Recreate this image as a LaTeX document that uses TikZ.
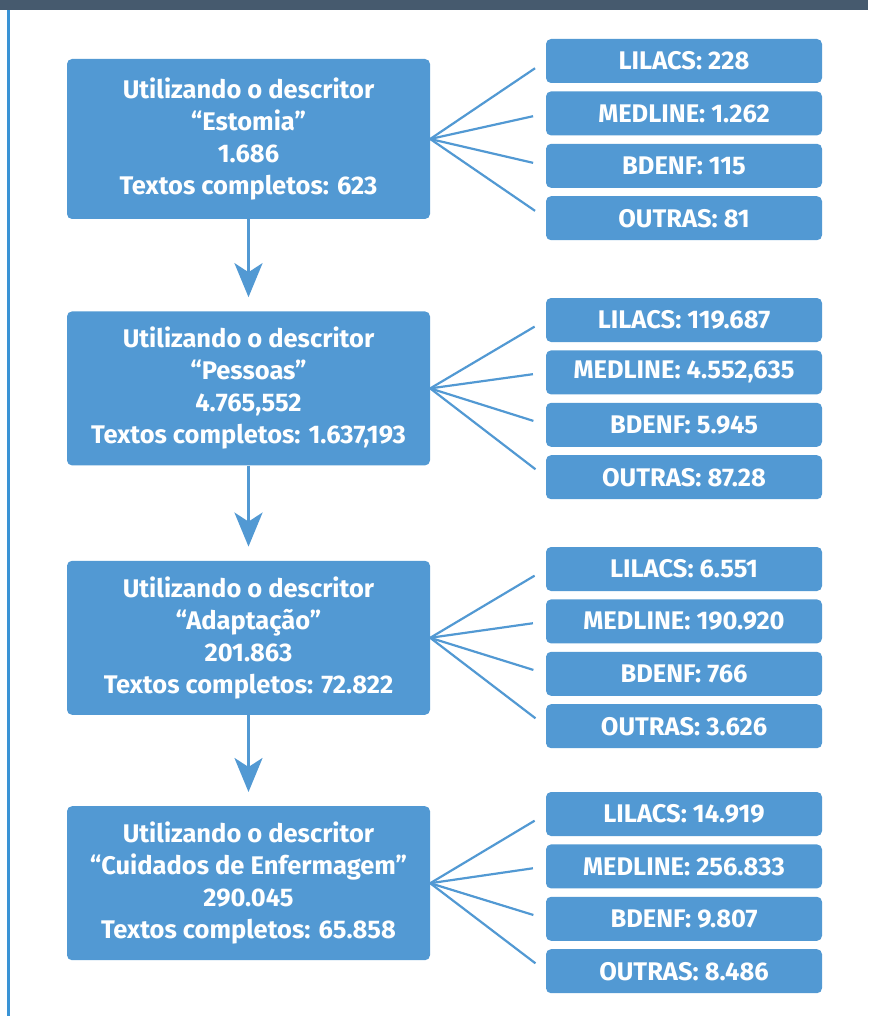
\documentclass[tikz,border=0pt]{standalone}
\usepackage{fontspec}
\setmainfont{Fira Sans}
\usetikzlibrary{arrows.meta, positioning}
\usepackage{xcolor}
\definecolor{boxblue}{RGB}{82,153,211}
\definecolor{barslate}{RGB}{70,90,110}
\definecolor{edgeblue}{RGB}{58,147,213}

\begin{document}
\begin{tikzpicture}[
    x=1pt, y=-1pt,
    node distance=8pt,
    mainbox/.style={rectangle, fill=boxblue, rounded corners=5pt, minimum width=363pt, minimum height=154pt, inner sep=0pt, text=white, align=center, font=\bfseries\fontsize{25.5}{32}\selectfont},
    dbbox/.style={rectangle, fill=boxblue, rounded corners=5pt, minimum width=276pt, minimum height=44pt, inner sep=0pt, text=white, font=\bfseries\fontsize{25.5}{28}\selectfont},
    spoke/.style={boxblue, line width=2.2pt, shorten >=13pt},
    downarrow/.style={-{Stealth[length=34pt, width=28pt, inset=9pt]}, boxblue, line width=3pt, shorten >=14pt}
]
\useasboundingbox (0,0) rectangle (868,1016);
\fill[barslate] (0,0) rectangle (868,10);
\fill[edgeblue] (7,10) rectangle (10,1016);

% search steps
\node[mainbox, minimum height=160pt] (estomia) at (248.5,139) {Utilizando o descritor\\“Estomia”\\1.686\\Textos completos: 623};
\node[mainbox, below=92pt of estomia] (pessoas) {Utilizando o descritor\\“Pessoas”\\4.765,552\\Textos completos: 1.637,193};
\node[mainbox, below=95pt of pessoas] (adapt) {Utilizando o descritor\\“Adaptação”\\201.863\\Textos completos: 72.822};
\node[mainbox, below=91pt of adapt] (cuidados) {Utilizando o descritor\\“Cuidados de Enfermagem”\\290.045\\Textos completos: 65.858};

% databases
\node[dbbox] (lil1) at (684,61) {LILACS: 228};
\node[dbbox, below=of lil1] (med1) {MEDLINE: 1.262};
\node[dbbox, below=of med1] (bde1) {BDENF: 115};
\node[dbbox, below=of bde1] (out1) {OUTRAS: 81};

\node[dbbox] (lil2) at (684,320) {LILACS: 119.687};
\node[dbbox, below=of lil2] (med2) {MEDLINE: 4.552,635};
\node[dbbox, below=of med2] (bde2) {BDENF: 5.945};
\node[dbbox, below=of bde2] (out2) {OUTRAS: 87.28};

\node[dbbox] (lil3) at (684,569) {LILACS: 6.551};
\node[dbbox, below=of lil3] (med3) {MEDLINE: 190.920};
\node[dbbox, below=of med3] (bde3) {BDENF: 766};
\node[dbbox, below=of bde3] (out3) {OUTRAS: 3.626};

\node[dbbox] (lil4) at (684,814) {LILACS: 14.919};
\node[dbbox, below=of lil4] (med4) {MEDLINE: 256.833};
\node[dbbox, below=of med4] (bde4) {BDENF: 9.807};
\node[dbbox, below=of bde4] (out4) {OUTRAS: 8.486};

\draw[downarrow] (estomia) -- (pessoas);
\draw[downarrow] (pessoas) -- (adapt);
\draw[downarrow] (adapt) -- (cuidados);

\draw[spoke] (estomia.east) -- (lil1.west);
\draw[spoke] (estomia.east) -- (med1.west);
\draw[spoke] (estomia.east) -- (bde1.west);
\draw[spoke] (estomia.east) -- (out1.west);

\draw[spoke] (pessoas.east) -- (lil2.west);
\draw[spoke] (pessoas.east) -- (med2.west);
\draw[spoke] (pessoas.east) -- (bde2.west);
\draw[spoke] (pessoas.east) -- (out2.west);

\draw[spoke] (adapt.east) -- (lil3.west);
\draw[spoke] (adapt.east) -- (med3.west);
\draw[spoke] (adapt.east) -- (bde3.west);
\draw[spoke] (adapt.east) -- (out3.west);

\draw[spoke] (cuidados.east) -- (lil4.west);
\draw[spoke] (cuidados.east) -- (med4.west);
\draw[spoke] (cuidados.east) -- (bde4.west);
\draw[spoke] (cuidados.east) -- (out4.west);
\end{tikzpicture}
\end{document}
